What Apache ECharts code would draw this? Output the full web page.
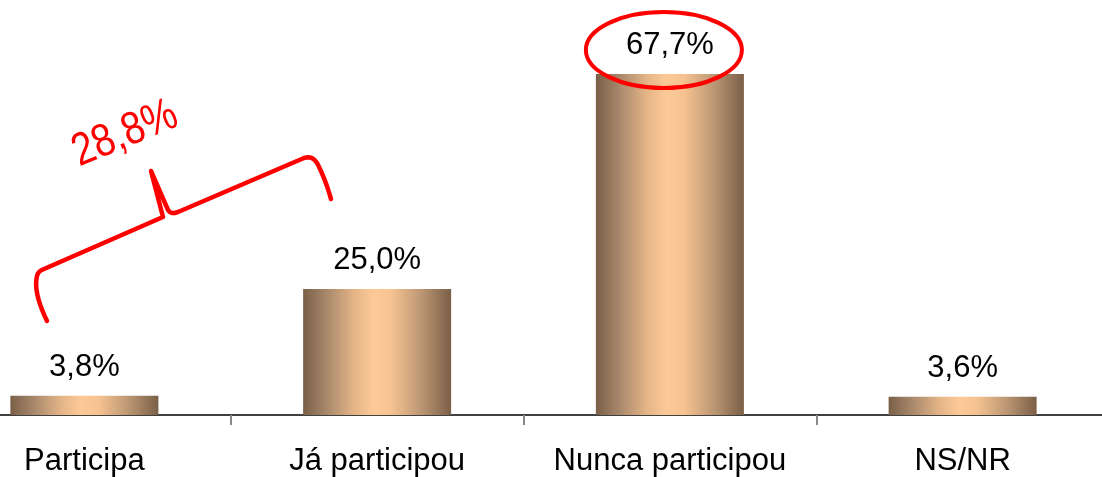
<!DOCTYPE html>
<html>
<head>
<meta charset="utf-8">
<script src="https://cdn.jsdelivr.net/npm/echarts@6/dist/echarts.min.js"></script>
<style>
html,body{margin:0;padding:0;background:#fff;overflow:hidden;width:1102px;height:477px;position:relative;}
#chart{position:absolute;left:-62px;top:0;width:1171px;height:477px;}
</style>
</head>
<body>
<div id="chart"></div>
<script>
const categories = ['Participa', 'Já participou', 'Nunca participou', 'NS/NR'];
const values = [3.8, 25.0, 67.7, 3.6];
const bracketLabel = '28,8%';

const OX = 62; // chart div is shifted left by this amount
const chart = echarts.init(document.getElementById('chart'), null, {renderer: 'canvas'});
const barGradient = new echarts.graphic.LinearGradient(0, 0, 1, 0, [
  {offset: 0, color: '#7a5f47'},
  {offset: 0.15, color: '#a5866a'},
  {offset: 0.35, color: '#e6b688'},
  {offset: 0.48, color: '#fdca97'},
  {offset: 0.6, color: '#f5c290'},
  {offset: 0.8, color: '#bb9673'},
  {offset: 1, color: '#7a5f47'}
]);
const fmt = v => v.toFixed(1).replace('.', ',') + '%';

chart.setOption({
  animation: false,
  backgroundColor: '#fff',
  grid: {left: 0, right: 0, top: 12, bottom: 62, containLabel: false},
  xAxis: {
    type: 'category',
    data: categories,
    axisLine: {show: true, lineStyle: {color: '#000', width: 1.5}},
    axisTick: {show: true, length: 10, lineStyle: {color: '#888', width: 2}},
    axisLabel: {interval: 0, color: '#000', fontSize: 31, fontFamily: 'Liberation Sans, Arial, sans-serif', margin: 31}
  },
  yAxis: {
    type: 'value', min: 0, max: 80, show: false,
    splitLine: {show: false}
  },
  series: [{
    type: 'bar',
    data: values,
    barWidth: 148,
    itemStyle: {color: barGradient},
    label: {
      show: true, position: 'top', distance: 13,
      color: '#000', fontSize: 31, fontFamily: 'Liberation Sans, Arial, sans-serif',
      formatter: p => fmt(p.value)
    }
  }]
});

// sample a piecewise path (lines & quadratic curves) into polyline points
function quad(p0, c, p1, n) {
  const pts = [];
  for (let i = 1; i <= n; i++) {
    const t = i / n, u = 1 - t;
    pts.push([u*u*p0[0] + 2*u*t*c[0] + t*t*p1[0], u*u*p0[1] + 2*u*t*c[1] + t*t*p1[1]]);
  }
  return pts;
}
let br = [[47, 321]];
br = br.concat(quad([47,321], [33,292], [37,276], 10));
br = br.concat(quad([37,276], [38,271], [44,269], 4));
br.push([163, 217]);
br.push([151, 171]);
br.push([168, 210]);
br = br.concat(quad([168,210], [171,215], [178,212], 4));
br.push([304, 158]);
br = br.concat(quad([304,158], [312,155], [317,163], 4));
br = br.concat(quad([317,163], [325,178], [331,199], 8));
br = br.map(p => [p[0] + OX, p[1]]);

const top3 = chart.convertToPixel({xAxisIndex: 0, yAxisIndex: 0}, [2, values[2]]);
chart.setOption({
  graphic: [
    {
      type: 'ellipse',
      shape: {cx: top3[0] - 6, cy: top3[1] - 24, rx: 78, ry: 38},
      style: {fill: 'none', stroke: '#ff0000', lineWidth: 4},
      z: 100
    },
    {
      type: 'polyline',
      shape: {points: br},
      style: {fill: 'none', stroke: '#ff0000', lineWidth: 4.5, lineJoin: 'round', lineCap: 'round'},
      z: 100
    },
    {
      type: 'text',
      x: 125 + OX, y: 134,
      rotation: 0.39,
      scaleX: 0.84,
      style: {
        text: bracketLabel,
        x: 0, y: 0,
        fill: '#ff0000',
        font: '46px "Liberation Sans", Arial, sans-serif',
        textAlign: 'center', textVerticalAlign: 'middle',
        shadowColor: 'rgba(0,0,0,0.35)', shadowOffsetX: 2, shadowOffsetY: 2, shadowBlur: 1
      },
      z: 100
    }
  ]
});
</script>
</body>
</html>
